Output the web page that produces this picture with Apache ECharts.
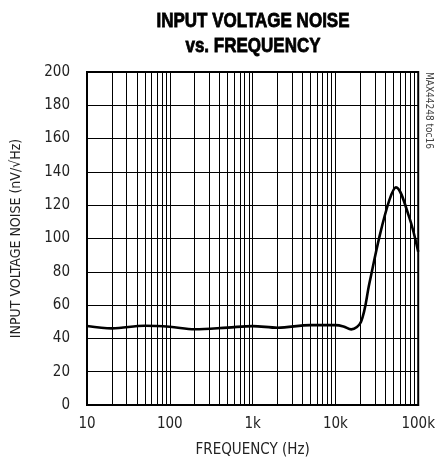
<!DOCTYPE html>
<html>
<head>
<meta charset="utf-8">
<script src="https://cdn.jsdelivr.net/npm/echarts@6/dist/echarts.min.js"></script>
<style>
  html, body { margin: 0; padding: 0; background: #fff; }
  #chart { width: 438px; height: 463px; }
</style>
</head>
<body>
<div id="chart"></div>
<script>
// frequency (Hz) and input voltage noise (nV/rtHz)
var freqs = [10, 20, 50, 100, 200, 500, 1000, 2000, 5000, 10000, 12500, 15500, 20400, 25700, 34000, 44800, 53800, 77600, 100000];
var noise = [47.4, 46, 47.6, 47, 45.5, 46.5, 47.4, 46.4, 48, 48, 47.2, 45.4, 50, 73, 101, 123, 130.7, 113, 92];
var decadeLabels = { 10: '10', 100: '100', 1000: '1k', 10000: '10k', 100000: '100k' };
var titleLines = ['INPUT VOLTAGE NOISE', 'vs. FREQUENCY'];

// minor vertical grid lines: 2..9 in each decade
var minorLines = [];
[10, 100, 1000, 10000].forEach(function (d) {
  for (var k = 2; k <= 9; k++) minorLines.push({ xAxis: d * k });
});

var labelFont = '"DejaVu Sans Condensed", sans-serif';

function titleText(str, y) {
  return {
    type: 'text',
    x: 253, y: y,
    scaleX: 0.81,
    style: {
      text: str,
      font: 'bold 21px "Liberation Sans", sans-serif',
      fill: '#000',
      stroke: '#000',
      lineWidth: 0.8,
      textAlign: 'center',
      textVerticalAlign: 'middle'
    }
  };
}

var chart = echarts.init(document.getElementById('chart'));
chart.setOption({
  animation: false,
  grid: {
    left: 87, right: 19, top: 72, bottom: 58,
    show: true, borderColor: '#000', borderWidth: 2
  },
  xAxis: {
    type: 'log',
    logBase: 10,
    min: 10,
    max: 100000,
    name: 'FREQUENCY (Hz)',
    nameLocation: 'middle',
    nameGap: 38,
    nameTextStyle: { fontFamily: labelFont, fontSize: 15, color: '#222' },
    axisLine: { lineStyle: { color: '#000', width: 2 } },
    axisTick: { show: false },
    axisLabel: {
      fontFamily: labelFont, fontSize: 15, color: '#222', margin: 12,
      formatter: function (v) { return decadeLabels[Math.round(v)] || ''; }
    },
    splitLine: { show: true, lineStyle: { color: '#000', width: 1 } }
  },
  yAxis: {
    type: 'value',
    min: 0,
    max: 200,
    interval: 20,
    name: 'INPUT VOLTAGE NOISE (nV/\u221AHz)',
    nameLocation: 'middle',
    nameGap: 64,
    nameTextStyle: { fontFamily: labelFont, fontSize: 14, color: '#222' },
    axisLine: { lineStyle: { color: '#000', width: 2 } },
    axisTick: { show: false },
    axisLabel: { fontFamily: labelFont, fontSize: 15, color: '#222', margin: 17 },
    splitLine: { show: true, lineStyle: { color: '#000', width: 1 } }
  },
  graphic: [
    titleText(titleLines[0], 21),
    titleText(titleLines[1], 46.5),
    {
      type: 'text',
      x: 424,
      y: 72,
      rotation: -Math.PI / 2,
      style: {
        text: 'MAX44248 toc16',
        font: '10px ' + labelFont,
        fill: '#444',
        textAlign: 'left',
        textVerticalAlign: 'bottom'
      }
    }
  ],
  series: [{
    type: 'line',
    data: freqs.map(function (f, i) { return [f, noise[i]]; }),
    smooth: 0.35,
    symbol: 'none',
    lineStyle: { color: '#000', width: 2.6 },
    markLine: {
      silent: true,
      symbol: 'none',
      label: { show: false },
      lineStyle: { color: '#000', width: 1, type: 'solid' },
      data: minorLines
    },
    z: 5
  }]
});
</script>
</body>
</html>
